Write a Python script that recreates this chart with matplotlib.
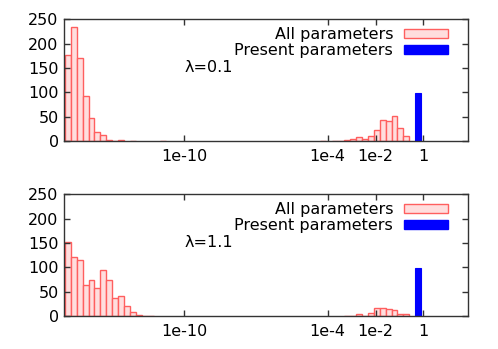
import numpy as np
import matplotlib.pyplot as plt
from matplotlib.patches import Patch

plt.rcParams["font.family"] = ["DejaVu Sans"]
plt.rcParams["font.size"] = 11.5

# ── Data: histogram counts in log10 bins (bin index -> count) ────────────────
bin_start = -15.0
bin_width = 0.2485

top_bins = [0, 1, 2, 3, 4, 5, 6, 7, 8, 9, 11, 16,
            43, 45, 46, 47, 48, 49, 50, 51, 52, 53, 54, 55, 56, 57]
top_counts = [177, 235, 171, 92, 48, 18, 12, 3, 1, 3, 1, 1,
              1, 1, 1, 3, 5, 8, 5, 10, 22, 43, 41, 51, 26, 10]

bottom_bins = [0, 1, 2, 3, 4, 5, 6, 7, 8, 9, 10, 11, 12, 13, 14,
               47, 48, 49, 50, 51, 52, 53, 54, 55, 56, 57]
bottom_counts = [152, 121, 115, 64, 74, 58, 94, 74, 37, 41, 20, 8, 2, 1, 1,
                 1, 1, 4, 1, 6, 16, 16, 15, 13, 4, 4]

present_bin = 59
present_counts = [98, 99]

lambda_labels = ["\u03bb=0.1", "\u03bb=1.1"]
xtick_pos = [-10, -4, -2, 0]
xtick_labels = ["1e-10", "1e-4", "1e-2", "1"]

pink_face = "#ffdede"
pink_edge = "#ff5f5f"

fig = plt.figure(figsize=(4.98, 3.49), dpi=100)
W, H = 498, 349
axes_px = [(19.3, 141), (194.3, 316)]

panels = [(top_bins, top_counts), (bottom_bins, bottom_counts)]
for i, ((bins, counts), (ytop, ybot)) in enumerate(zip(panels, axes_px)):
    ax = fig.add_axes([64.3 / W, 1 - ybot / H, (468.3 - 64.3) / W, (ybot - ytop) / H])
    lefts = bin_start + np.array(bins) * bin_width
    ax.bar(lefts, counts, width=bin_width, align="edge",
           color=pink_face, edgecolor=pink_edge, linewidth=1.0)
    ax.bar(bin_start + present_bin * bin_width, present_counts[i], width=bin_width,
           align="edge", color="#0000ff", edgecolor="#0000ff", linewidth=0.8)

    ax.set_xlim(-15.02, 1.88)
    ax.set_ylim(0, 250)
    ax.set_yticks(range(0, 251, 50))
    ax.set_xticks(xtick_pos)
    ax.set_xticklabels(xtick_labels)
    ax.tick_params(direction="in", top=True, right=True, length=4, width=1,
                   color="#333333")
    ax.tick_params(axis="x", pad=6)
    ax.tick_params(axis="y", pad=4)
    for s in ax.spines.values():
        s.set_linewidth(1.0)
        s.set_color("#333333")

    ax.text(-10, 150, lambda_labels[i], ha="left", va="center")

    handles = [Patch(facecolor=pink_face, edgecolor=pink_edge, linewidth=1.0,
                     label="All parameters"),
               Patch(facecolor="#0000ff", edgecolor="#0000ff",
                     label="Present parameters")]
    ax.legend(handles=handles, loc="upper right", markerfirst=False,
              frameon=False, handlelength=2.75, handleheight=0.5,
              handletextpad=0.7, labelspacing=0.05, borderaxespad=0,
              borderpad=0, bbox_to_anchor=(0.9505, 0.935))

plt.savefig("out.png", dpi=100)
